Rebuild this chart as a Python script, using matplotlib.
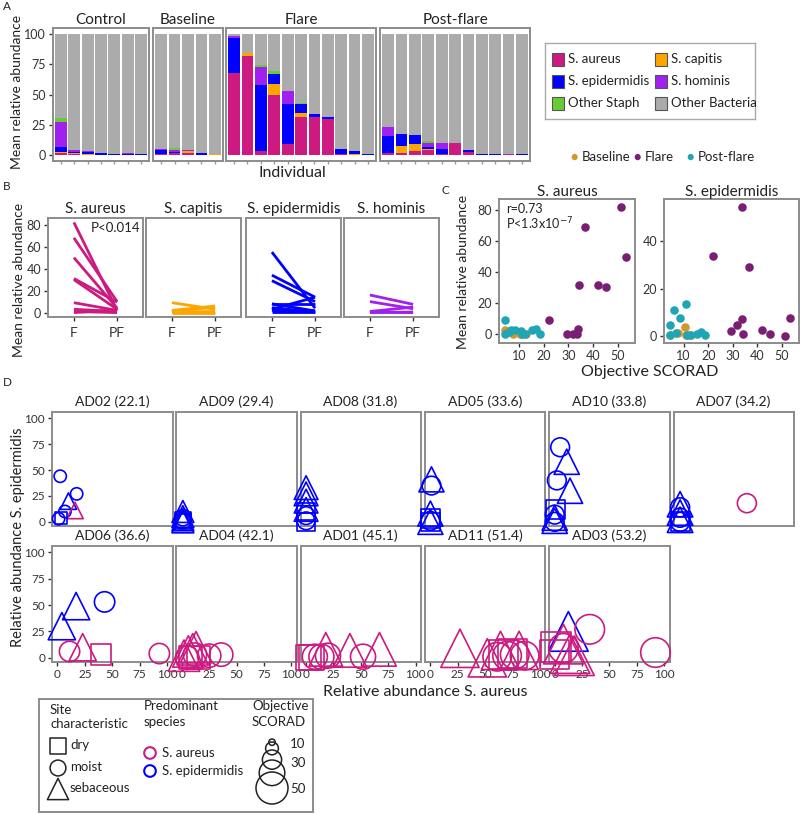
import matplotlib
matplotlib.use('Agg')
import matplotlib.pyplot as plt
from matplotlib.patches import Rectangle

plt.rcParams['font.family'] = ['Lato', 'DejaVu Sans']

W, H = 800, 814

# цвета
c_aur = '#CC1A80'
c_cap = '#FFA500'
c_epi = '#0000FF'
c_hom = '#A020F0'
c_oth = '#66CC33'
c_bac = '#ABABAB'
c_base = '#D4962E'
c_flare = '#7A1E73'
c_post = '#1FA5B5'
box_col = '#8C8C8C'
txt_col = '#222222'

# ---------- данные панели A ----------
groups_A = ['Control', 'Baseline', 'Flare', 'Post-flare']
aureus_A = [[1.5, 1, 0, 0, 0, 0, 0],
            [0.5, 1.5, 2, 0, 0],
            [68, 82, 3, 50, 9, 31, 31, 30, 0.5, 0, 0],
            [2, 2, 3, 4, 1, 9.5, 2.5, 0, 0, 0, 0]]
capitis_A = [[1, 0.5, 1, 0, 0, 0, 0],
             [0, 0, 1, 0, 0.5],
             [0, 2, 0, 9, 0, 4, 0, 0, 0, 1, 0],
             [0, 5, 6, 1, 0, 0.5, 0, 0, 0, 0, 0]]
epidermidis_A = [[4, 1, 1.5, 1.5, 1, 0.5, 0.5],
                 [3.5, 1, 0, 1.5, 0.5],
                 [29, 0, 55, 8, 33.5, 7.5, 3, 1.5, 4.5, 2, 0.5],
                 [14, 10, 7.5, 1.5, 4, 0, 1.5, 0.5, 0.5, 0, 0.5]]
hominis_A = [[21, 1.5, 0.5, 0, 0, 1, 0],
             [1, 2, 1, 0, 0],
             [1, 0.5, 15, 0, 10, 0, 0, 0, 0, 0, 0],
             [7.5, 0.5, 0, 3.5, 5, 0, 0, 0, 0, 0.5, 0]]
otherstaph_A = [[3, 0.5, 0, 0, 0, 0, 0],
                [0, 1, 0, 0, 0],
                [0, 0, 1, 2.5, 0.5, 0.5, 0, 0, 0, 0, 0],
                [0, 0, 0, 1.5, 0, 0, 0, 0, 0, 0, 0]]
species_A = ['S. aureus', 'S. capitis', 'S. epidermidis', 'S. hominis', 'Other Staph', 'Other Bacteria']

# ---------- данные панели B (Flare -> Post-flare) ----------
species_B = ['S. aureus', 'S. capitis', 'S. epidermidis', 'S. hominis']
F_B = [[82, 68, 50, 31, 30, 9, 3, 1, 0],
       [9, 2, 1, 0, 0.5],
       [55, 34, 29, 8, 7.5, 4.5, 3, 2, 0.5],
       [16, 10, 1, 0.5, 0]]
PF_B = [[2, 10, 4, 9.5, 3, 2, 1, 0, 2.5],
        [3, 6, 5, 0, 1],
        [4, 14, 10, 1.5, 7.5, 0.5, 14, 1.5, 0.5],
        [7.5, 3.5, 5, 0, 0.5]]

# ---------- данные панели C ----------
flare_scorad = [51.4, 36.6, 53.2, 34.2, 42.1, 45.1, 22.1, 29.4, 31.8, 33.6, 33.8]
flare_aur = [82, 69, 50, 32, 31.5, 30.5, 9, 0, 0, 0, 3.5]
flare_epi = [0, 29, 7.5, 1, 2.5, 1, 34, 2, 4.5, 7, 54.5]
post_scorad = [4.5, 4.5, 6, 7, 8.5, 11, 11.5, 12.5, 15.5, 17, 18.5]
post_aur = [9.5, 0.5, 1.5, 2.5, 3, 2, 0, 0.5, 3, 3.5, 0]
post_epi = [4.5, 0.3, 10.9, 1.3, 7.8, 13.5, 0.3, 0.5, 0.8, 1.5, 0.5]
base_scorad = [4.5, 7.5, 10.5, 11, 13]
base_aur = [2.5, 0.5, 0.5, 0, 0.5]
base_epi = [0.3, 1.3, 3.8, 0.5, 0.5]

# ---------- данные панели D ----------
d_names = ['AD02', 'AD09', 'AD08', 'AD05', 'AD10', 'AD07',
           'AD06', 'AD04', 'AD01', 'AD11', 'AD03']
d_scorad = [22.1, 29.4, 31.8, 33.6, 33.8, 34.2, 36.6, 42.1, 45.1, 51.4, 53.2]
# (S. aureus, S. epidermidis, участок, доминирующий вид)
d_points = [
    [(2.5, 44, 'moist', 'epi'), (17.5, 27, 'moist', 'epi'), (6.8, 10, 'moist', 'epi'),
     (10, 20, 'sebaceous', 'epi'), (16, 11, 'sebaceous', 'aur'), (3, 4, 'dry', 'epi'),
     (1, 3, 'moist', 'epi')],
    [(1, 10, 'sebaceous', 'epi'), (1, 5, 'sebaceous', 'epi'), (1, 2, 'sebaceous', 'epi'),
     (1, 0, 'sebaceous', 'epi'), (1, 0, 'dry', 'epi'), (1, 2, 'dry', 'epi'),
     (1, 4, 'moist', 'epi'), (1, 1, 'moist', 'epi')],
    [(0, 33, 'sebaceous', 'epi'), (0, 27, 'sebaceous', 'epi'), (0, 20, 'sebaceous', 'epi'),
     (0, 12, 'sebaceous', 'epi'), (0, 6, 'moist', 'epi'), (0, 1, 'moist', 'epi'),
     (0, 0, 'dry', 'epi'), (0, 10, 'dry', 'epi')],
    [(1, 41, 'sebaceous', 'epi'), (1, 35, 'moist', 'epi'), (0, 8, 'sebaceous', 'epi'),
     (0, 3, 'dry', 'epi'), (0, 0, 'sebaceous', 'epi'), (0, 1, 'moist', 'epi'),
     (0, 0, 'dry', 'epi')],
    [(5, 72, 'moist', 'epi'), (11, 58, 'sebaceous', 'epi'), (2, 40, 'moist', 'epi'),
     (14, 30, 'sebaceous', 'epi'), (1, 12, 'dry', 'epi'), (0, 7, 'moist', 'epi'),
     (0, 4, 'sebaceous', 'epi'), (0, 1, 'sebaceous', 'epi'), (0, 0, 'moist', 'epi')],
    [(1, 17, 'sebaceous', 'epi'), (1, 14, 'moist', 'epi'), (1, 9, 'sebaceous', 'epi'),
     (1, 4, 'moist', 'epi'), (1, 2, 'sebaceous', 'epi'), (1, 0, 'dry', 'epi'),
     (1, 0, 'moist', 'epi'), (62, 18, 'moist', 'aur')],
    [(17, 49, 'sebaceous', 'epi'), (43, 53, 'moist', 'epi'), (4, 30, 'sebaceous', 'epi'),
     (11, 6, 'moist', 'aur'), (23, 10, 'sebaceous', 'aur'), (40, 3, 'dry', 'aur'),
     (93, 4, 'moist', 'aur')],
    [(2, 2, 'sebaceous', 'aur'), (6, 6, 'sebaceous', 'aur'), (10, 8, 'sebaceous', 'aur'),
     (13, 10, 'sebaceous', 'aur'), (8, 0, 'dry', 'aur'), (15, 0, 'dry', 'aur'),
     (25, 2, 'moist', 'aur'), (36, 3, 'moist', 'aur'), (5, 0, 'moist', 'aur'),
     (12, 3, 'moist', 'aur')],
    [(2, 0, 'dry', 'aur'), (8, 1, 'moist', 'aur'), (14, 1, 'moist', 'aur'),
     (18, 8, 'sebaceous', 'aur'), (20, 2, 'moist', 'aur'), (40, 7, 'sebaceous', 'aur'),
     (52, 1, 'moist', 'aur'), (67, 8, 'sebaceous', 'aur'), (5, 0, 'dry', 'aur')],
    [(27, 9, 'sebaceous', 'aur'), (64, 7, 'sebaceous', 'aur'), (81, 7, 'sebaceous', 'aur'),
     (52, 0, 'sebaceous', 'aur'), (61, 1, 'moist', 'aur'), (70, 2, 'moist', 'aur'),
     (77, 3, 'moist', 'aur'), (86, 2, 'moist', 'aur'), (67, 3, 'dry', 'aur'),
     (75, 4, 'dry', 'aur')],
    [(12.5, 25, 'sebaceous', 'epi'), (32, 27, 'moist', 'aur'), (92, 5, 'moist', 'aur'),
     (1, 10, 'dry', 'aur'), (8, 9, 'moist', 'aur'), (8, 13, 'sebaceous', 'aur'),
     (14, 4, 'sebaceous', 'aur'), (0, 3, 'dry', 'aur'), (18, 2, 'sebaceous', 'aur')],
]
legend_scorad = [10, 20, 30, 40, 50]

fig = plt.figure(figsize=(W / 100, H / 100), dpi=100)


def add_ax(x0, y0, x1, y1):
    return fig.add_axes([x0 / W, 1 - y1 / H, (x1 - x0) / W, (y1 - y0) / H])


def ftext(x, y, s, **kw):
    kw.setdefault('color', txt_col)
    return fig.text(x / W, 1 - y / H, s, **kw)


def style(ax, left=True, bottom=True):
    for sp in ax.spines.values():
        sp.set_color(box_col)
        sp.set_linewidth(1.4)
    ax.tick_params(color='#333333', length=3, width=1, labelsize=9, labelcolor='#333333', pad=2)
    if not left:
        ax.tick_params(left=False, labelleft=False)
    if not bottom:
        ax.tick_params(bottom=False, labelbottom=False)


# ================= A =================
ftext(3, 6, 'A', fontsize=8.5, va='center')
boxes_A = [(53, 149), (153, 223), (226, 376), (380, 530)]
cols_A = [c_aur, c_cap, c_epi, c_hom, c_oth, c_bac]
for g, (x0, x1) in enumerate(boxes_A):
    ax = add_ax(x0, 28, x1, 161)
    n = len(aureus_A[g])
    xs = list(range(1, n + 1))
    layers = [aureus_A[g], capitis_A[g], epidermidis_A[g], hominis_A[g], otherstaph_A[g]]
    rest = [100 - sum(v) for v in zip(*layers)]
    layers.append(rest)
    bottom = [0] * n
    for vals, c in zip(layers, cols_A):
        ax.bar(xs, vals, bottom=bottom, width=0.88, color=c, linewidth=0)
        bottom = [b + v for b, v in zip(bottom, vals)]
    ax.set_xlim(0.4, n + 0.6)
    ax.set_ylim(-5, 105)
    ax.set_xticks(xs)
    ax.set_xticklabels([])
    ax.set_yticks([0, 25, 50, 75, 100])
    style(ax, left=(g == 0))
    ax.tick_params(axis='x', length=2, color='#999999')
    ftext((x0 + x1) / 2, 20, groups_A[g], fontsize=11, ha='center', va='center')
ftext(17, 92, 'Mean relative abundance', fontsize=10, rotation=90, ha='center', va='center')
ftext(292, 173, 'Individual', fontsize=11.5, ha='center', va='center')

# легенда A
axl = add_ax(545, 43, 755, 119)
axl.set_xlim(545, 755)
axl.set_ylim(119, 43)
axl.set_xticks([])
axl.set_yticks([])
for sp in axl.spines.values():
    sp.set_color('#AAAAAA')
    sp.set_linewidth(1)
leg_pos = [(552, 59), (655, 59), (552, 81), (655, 81), (552, 103), (655, 103)]
for (lx, ly), c, lab in zip(leg_pos, cols_A, species_A):
    axl.add_patch(Rectangle((lx, ly - 6.5), 12, 13, facecolor=c, edgecolor='#555555', lw=0.8))
    axl.text(lx + 16, ly, lab, fontsize=9.5, va='center', color=txt_col)

# ================= B =================
ftext(3, 187, 'B', fontsize=8.5, va='center')
boxes_B = [(48, 143), (146, 241), (246, 341), (344, 439)]
cols_B = [c_aur, c_cap, c_epi, c_hom]
for k, (x0, x1) in enumerate(boxes_B):
    ax = add_ax(x0, 218, x1, 317)
    for f, p in zip(F_B[k], PF_B[k]):
        ax.plot([1, 2], [f, p], color=cols_B[k], lw=2, solid_capstyle='butt')
    ax.set_xlim(0.4, 2.6)
    ax.set_ylim(-4, 86)
    ax.set_xticks([1, 2])
    ax.set_xticklabels(['F', 'PF'])
    ax.set_yticks([0, 20, 40, 60, 80])
    style(ax, left=(k == 0))
    ax.tick_params(axis='x', labelsize=10, pad=4)
    ftext((x0 + x1) / 2, 209, species_B[k], fontsize=11, ha='center', va='center')
    if k == 0:
        ax.text(0.45, 0.9, 'P<0.014', transform=ax.transAxes, fontsize=9.5, color=txt_col, va='center')
ftext(19, 280, 'Mean relative abundance', fontsize=10, rotation=90, ha='center', va='center')

# ================= C =================
ftext(441, 191, 'C', fontsize=8.5, va='center')
c_leg = [(574, 'Baseline', c_base), (637, 'Flare', c_flare), (690, 'Post-flare', c_post)]
for lx, lab, c in c_leg:
    ftext(lx, 157, '\u25CF', fontsize=9, ha='center', va='center', color=c)
    ftext(lx + 8, 157, lab, fontsize=9.5, va='center')

boxes_C = [(499, 635), (664, 799)]
titles_C = ['S. aureus', 'S. epidermidis']
for k, (x0, x1) in enumerate(boxes_C):
    ax = add_ax(x0, 199, x1, 343)
    if k == 0:
        yb, yf, yp = base_aur, flare_aur, post_aur
    else:
        yb, yf, yp = base_epi, flare_epi, post_epi
    ax.scatter(base_scorad, yb, s=38, color=c_base, linewidths=0, zorder=3)
    ax.scatter(flare_scorad, yf, s=38, color=c_flare, linewidths=0, zorder=3)
    ax.scatter(post_scorad, yp, s=38, color=c_post, linewidths=0, zorder=3)
    ax.set_xlim(2, 57)
    ax.set_xticks([10, 20, 30, 40, 50])
    if k == 0:
        ax.set_ylim(-5.6, 87)
        ax.set_yticks([0, 20, 40, 60, 80])
        ax.text(0.05, 0.93, 'r=0.73', transform=ax.transAxes, fontsize=9, color=txt_col, va='center')
        ax.text(0.05, 0.83, 'P<1.3x10$^{-7}$', transform=ax.transAxes, fontsize=9, color=txt_col, va='center')
    else:
        ax.set_ylim(-3, 58)
        ax.set_yticks([0, 20, 40])
    style(ax)
    ftext((x0 + x1) / 2, 192, titles_C[k], fontsize=11, ha='center', va='center')
ftext(463, 272, 'Mean relative abundance', fontsize=10, rotation=90, ha='center', va='center')
ftext(650, 372, 'Objective SCORAD', fontsize=11.5, ha='center', va='center')

# ================= D =================
ftext(3, 383, 'D', fontsize=8.5, va='center')
shape_map = {'dry': 's', 'moist': 'o', 'sebaceous': '^'}
col_map = {'aur': c_aur, 'epi': c_epi}
col_x = [52 + i * 124.3 for i in range(6)]
rows_y = [(412, 526), (546, 662)]
for i, name in enumerate(d_names):
    r, c = divmod(i, 6)
    x0 = col_x[c]
    y0, y1 = rows_y[r]
    ax = add_ax(x0, y0, x0 + 120.5, y1)
    size = (0.40 * d_scorad[i]) ** 2
    for xa, ye, site, sp in d_points[i]:
        mult = 1.8 if site == 'sebaceous' else 1.0
        ax.scatter([xa], [ye], s=size * mult, marker=shape_map[site], facecolors='none',
                   edgecolors=col_map[sp], linewidths=1.2, clip_on=False, zorder=3)
    ax.set_xlim(-5, 105)
    ax.set_ylim(-4, 106)
    ax.set_xticks([0, 25, 50, 75, 100])
    ax.set_yticks([0, 25, 50, 75, 100])
    style(ax, left=(c == 0), bottom=(r == 1))
    ax.tick_params(labelsize=8.5)
    ftext(x0 + 60, y0 - 10, f'{name} ({d_scorad[i]})', fontsize=10, ha='center', va='center')
ftext(18, 537, 'Relative abundance S. epidermidis', fontsize=10.5, rotation=90, ha='center', va='center')
ftext(425, 692, 'Relative abundance S. aureus', fontsize=11.5, ha='center', va='center')

# легенда D
axd = add_ax(39, 699, 313, 812)
axd.set_xlim(39, 313)
axd.set_ylim(812, 699)
axd.set_xticks([])
axd.set_yticks([])
for sp in axd.spines.values():
    sp.set_color(box_col)
    sp.set_linewidth(1.4)
axd.text(50, 717, 'Site\ncharacteristic', fontsize=9.5, va='center', color=txt_col, linespacing=1.3)
axd.text(144, 714, 'Predominant\nspecies', fontsize=9.5, va='center', color=txt_col, linespacing=1.3)
axd.text(252, 714, 'Objective\nSCORAD', fontsize=9.5, va='center', color=txt_col, linespacing=1.3)
site_leg = [('dry', 746), ('moist', 768), ('sebaceous', 789)]
for site, ly in site_leg:
    mult = 1.8 if site == 'sebaceous' else 1.0
    axd.scatter([58], [ly], s=130 * mult, marker=shape_map[site], facecolors='none',
                edgecolors='#222222', linewidths=1.1)
    axd.text(70, ly - 1, site, fontsize=9.5, va='center', color=txt_col)
sp_leg = [('S. aureus', 'aur', 753), ('S. epidermidis', 'epi', 771)]
for lab, sp, ly in sp_leg:
    axd.scatter([150], [ly], s=70, marker='o', facecolors='none', edgecolors=col_map[sp], linewidths=1.5)
    axd.text(162, ly, lab, fontsize=9.5, va='center', color=txt_col)
# «снеговик» размеров: верхние края кругов
tops = [739, 742, 750, 760, 772]
for sc, top in zip(legend_scorad, tops):
    d = 0.64 * sc
    axd.add_patch(plt.Circle((272, top + d / 2), d / 2, fill=False, edgecolor='#222222', lw=1.1))
for sc, ly in [(10, 744), (30, 763), (50, 789)]:
    axd.text(290, ly, str(sc), fontsize=9.5, va='center', color=txt_col)

fig.savefig('out.png', dpi=100)
